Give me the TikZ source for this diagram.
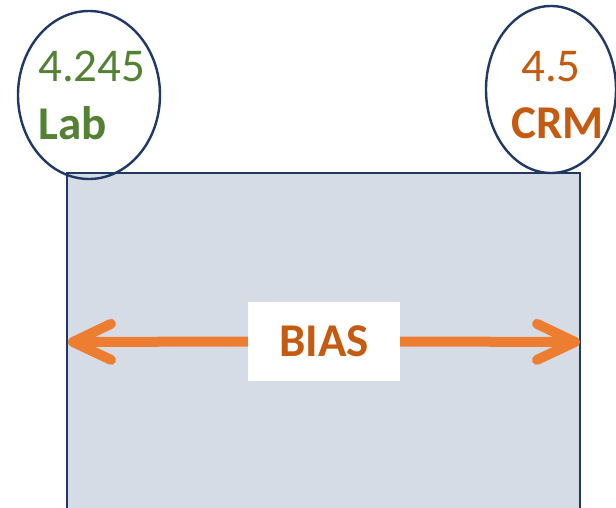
\documentclass[tikz,border=0pt]{standalone}
\usepackage{fontspec}
\setmainfont{Carlito}
\usetikzlibrary{arrows.meta,shapes.geometric}
\definecolor{navy}{HTML}{1F3864}
\definecolor{boxfill}{HTML}{D6DCE5}
\definecolor{labgreen}{HTML}{548235}
\definecolor{crmorange}{HTML}{C55A11}
\definecolor{arroworange}{HTML}{ED7D31}
\tikzset{
  ring/.style={draw=navy, line width=2.4pt, ellipse, inner sep=0pt},
  valtext/.style={anchor=base west, font=\fontsize{47}{50}\selectfont, inner sep=0pt},
  nametext/.style={anchor=base west, font=\fontsize{47}{50}\selectfont\bfseries, inner sep=0pt},
  biasarrow/.style={draw=arroworange, line width=10pt,
    -{Straight Barb[length=38pt,width=36pt,line cap=round,line join=round]}},
}
\begin{document}
\begin{tikzpicture}[x=1pt,y=-1pt]
\useasboundingbox (0,0) rectangle (616,508);
\clip (0,0) rectangle (616,508);
\fill[white] (0,0) rectangle (616,508);
% main box
\draw[draw=navy, fill=boxfill, line width=2.6pt] (67,173) rectangle (580,530);
% ellipses
\node[ring, minimum width=142pt, minimum height=168pt] (labring) at (89,95) {};
\node[ring, minimum width=130pt, minimum height=167pt] (crmring) at (551,89.5) {};
% texts
\node[valtext, text=labgreen] (labval) at (38,82) {4.245};
\node[nametext, text=labgreen] (labname) at (38,140) {Lab};
\node[valtext, text=crmorange] (crmval) at (521,82) {4.5};
\node[nametext, text=crmorange] (crmname) at (511,139) {CRM};
% bias box
\node[fill=white, minimum width=152pt, minimum height=79pt, inner sep=0pt,
      text=crmorange, font=\fontsize{47}{50}\selectfont\bfseries] (bias) at (324,341.5) {BIAS};
\coordinate (lefttip) at (68,342);
\coordinate (righttip) at (580,342);
\draw[biasarrow] (bias.west) -- (lefttip);
\draw[biasarrow] (bias.east) -- (righttip);
\end{tikzpicture}
\end{document}
